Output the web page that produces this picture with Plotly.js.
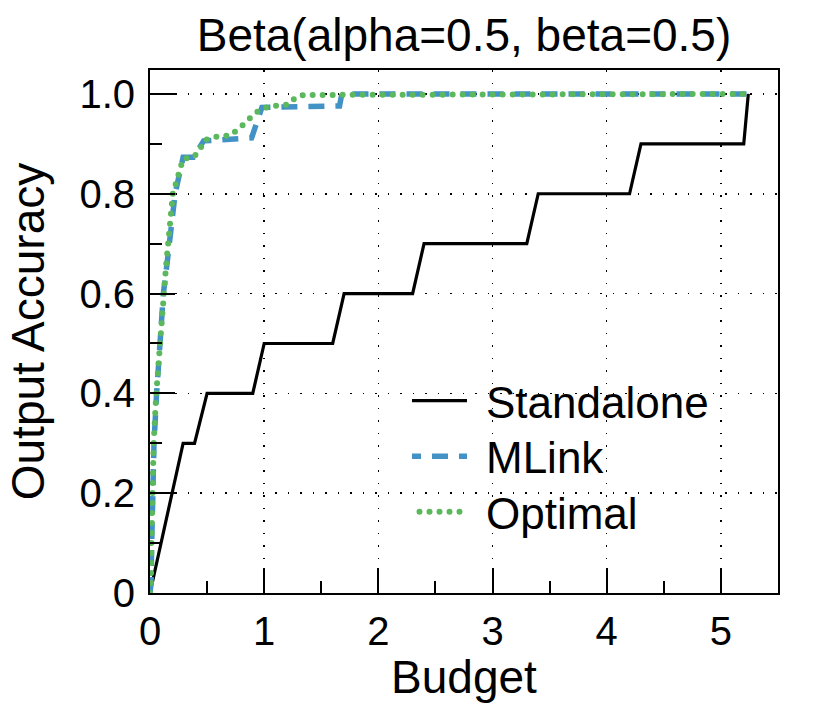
<!DOCTYPE html>
<html>
<head>
<meta charset="utf-8">
<script src="https://cdn.plot.ly/plotly-3.0.1.min.js"></script>
<style>
  html, body { margin: 0; padding: 0; background: #fff; }
  #chart { width: 830px; height: 712px; }
</style>
</head>
<body>
<div id="chart"></div>
<script>
// ---- data ----
const seriesNames = ["Standalone", "MLink", "Optimal"];

const standaloneX = [0, 0.29, 0.39, 0.50, 0.90, 1.00, 1.60, 1.70, 2.30, 2.40, 3.30, 3.40, 4.20, 4.30, 5.20, 5.24];
const standaloneY = [0, 0.30, 0.30, 0.40, 0.40, 0.50, 0.50, 0.60, 0.60, 0.70, 0.70, 0.80, 0.80, 0.90, 0.90, 1.00];

const mlinkX = [0, 0.009, 0.015, 0.023, 0.035, 0.058, 0.088, 0.117, 0.146, 0.16, 0.19, 0.22, 0.29, 0.38, 0.47, 0.89, 0.98, 1.66, 1.68, 5.24];
const mlinkY = [0, 0.02, 0.10, 0.20, 0.30, 0.40, 0.50, 0.60, 0.654, 0.687, 0.75, 0.80, 0.873, 0.873, 0.906, 0.912, 0.973, 0.976, 1.00, 1.00];

const optimalX = [0, 0.008, 0.013, 0.020, 0.032, 0.055, 0.085, 0.112, 0.14, 0.20, 0.262, 0.29, 0.38, 0.437, 0.47, 0.54, 0.706, 0.773, 0.84, 0.904, 0.968, 1.05, 1.216, 1.275, 1.35, 5.24];
const optimalY = [0, 0.02, 0.10, 0.20, 0.30, 0.40, 0.50, 0.60, 0.654, 0.80, 0.854, 0.87, 0.873, 0.888, 0.906, 0.913, 0.917, 0.929, 0.943, 0.958, 0.969, 0.975, 0.979, 0.993, 0.998, 1.00];

const xTickVals = [0, 1, 2, 3, 4, 5];
const xTickText = ["0", "1", "2", "3", "4", "5"];
const yTickVals = [0, 0.2, 0.4, 0.6, 0.8, 1.0];
const yTickText = ["0", "0.2", "0.4", "0.6", "0.8", "1.0"];

const titleText = "Beta(alpha=0.5, beta=0.5)";
const xTitle = "Budget";
const yTitle = "Output Accuracy";

// ---- styles ----
const FONT = "Liberation Sans, Arial, Helvetica, sans-serif";
const BLUE = "#4292c6";
const GREEN = "#5cb85c";
const TITLE_SIZE = 46;

const traces = [
  { x: standaloneX, y: standaloneY, name: seriesNames[0], mode: "lines",
    line: { color: "#000000", width: 3.2 } },
  { x: mlinkX, y: mlinkY, name: seriesNames[1], mode: "lines",
    line: { color: BLUE, width: 5.5, dash: "16px,11px" } },
  { x: optimalX, y: optimalY, name: seriesNames[2], mode: "lines",
    line: { color: GREEN, width: 6, dash: "0px,10px" } }
];

const axisCommon = {
  ticks: "inside", ticklen: 25, tickwidth: 2, tickcolor: "#000",
  showline: true, linewidth: 2, linecolor: "#000", mirror: true,
  showgrid: true, gridcolor: "#000", gridwidth: 1.5, griddash: "1.5px,11px",
  zeroline: false, tickfont: { family: FONT, size: 40, color: "#000" },
  automargin: false, fixedrange: true
};

const layout = {
  width: 830, height: 712,
  margin: { l: 150, r: 52, t: 70, b: 119, pad: 0 },
  paper_bgcolor: "#fff", plot_bgcolor: "#fff",
  font: { family: FONT, color: "#000" },
  showlegend: true,
  title: { text: titleText, font: { family: FONT, size: TITLE_SIZE, color: "#000" },
           x: 0.5, xref: "paper", xanchor: "center", y: 1 - 35 / 712, yref: "container", yanchor: "middle" },
  xaxis: Object.assign({}, axisCommon, {
    range: [0, 5.5], tickmode: "array", tickvals: xTickVals, ticktext: xTickText,
    ticklabelstandoff: 2,
    minor: { tickmode: "linear", tick0: 0, dtick: 0.5, ticks: "inside", ticklen: 12, tickwidth: 2, tickcolor: "#000", showgrid: false },
    title: { text: xTitle, font: { family: FONT, size: TITLE_SIZE, color: "#000" }, standoff: 0 }
  }),
  yaxis: Object.assign({}, axisCommon, {
    range: [0, 1.048], tickmode: "array", tickvals: yTickVals, ticktext: yTickText,
    ticklabelstandoff: 5,
    minor: { tickmode: "linear", tick0: 0, dtick: 0.1, ticks: "inside", ticklen: 12, tickwidth: 2, tickcolor: "#000", showgrid: false },
    title: { text: yTitle, font: { family: FONT, size: TITLE_SIZE, color: "#000" }, standoff: 20 }
  }),
  legend: {
    x: (396 - 150) / 628, y: (593 - 361) / 523, xref: "paper", yref: "paper",
    xanchor: "left", yanchor: "top", itemwidth: 80,
    bgcolor: "rgba(0,0,0,0)", borderwidth: 0,
    font: { family: FONT, size: 44, color: "#000" }
  }
};

function parseTranslate(t) {
  const m = /translate\(\s*([-\d.e]+)[ ,]+([-\d.e]+)\s*\)/.exec(t || "");
  return m ? [parseFloat(m[1]), parseFloat(m[2])] : [0, 0];
}

function fixLines(gd) {
  const legendItems = gd.querySelectorAll(".legend .traces");
  const rowY = [400.7, 456.2, 511.7];
  legendItems.forEach((g, i) => {
    const txt = g.querySelector("text.legendtext");
    const p = g.querySelector("path.js-line");
    if (!txt || !p) return;
    const tx = parseFloat(txt.getAttribute("x")) || 40;
    const end = tx - 19, start = end - 55;
    p.setAttribute("d", "M" + start + ",0h55");
    if (i === 1) p.style.strokeDashoffset = "7px";
    if (i === 2) { p.style.strokeLinecap = "round"; p.style.strokeDashoffset = "-7.5px"; }
    // align row to reference spacing
    const ctm = p.getScreenCTM();
    if (ctm && rowY[i] !== undefined) {
      const [ox, oy] = parseTranslate(g.getAttribute("transform"));
      const dy = rowY[i] - ctm.f;
      if (Math.abs(dy) > 0.3) g.setAttribute("transform", "translate(" + ox + "," + (oy + dy) + ")");
    }
  });
  const plotTraces = gd.querySelectorAll(".scatterlayer .trace");
  if (plotTraces[2]) {
    const p = plotTraces[2].querySelector("path.js-line");
    if (p) p.style.strokeLinecap = "round";
  }
  // x-axis title baseline to match reference (~682px)
  const xt = gd.querySelector("text.xtitle");
  if (xt) {
    const bb = xt.getBBox();
    const baseline = bb.y + 0.905 * TITLE_SIZE;
    const y0 = parseFloat(xt.getAttribute("y"));
    const shift = 682 - baseline;
    if (Math.abs(shift) > 0.5) xt.setAttribute("y", y0 + shift);
  }
}

const gd = document.getElementById("chart");
Plotly.newPlot(gd, traces, layout, { displayModeBar: false, staticPlot: true }).then(() => {
  fixLines(gd);
  gd.on && gd.on("plotly_afterplot", () => fixLines(gd));
});
</script>
</body>
</html>
